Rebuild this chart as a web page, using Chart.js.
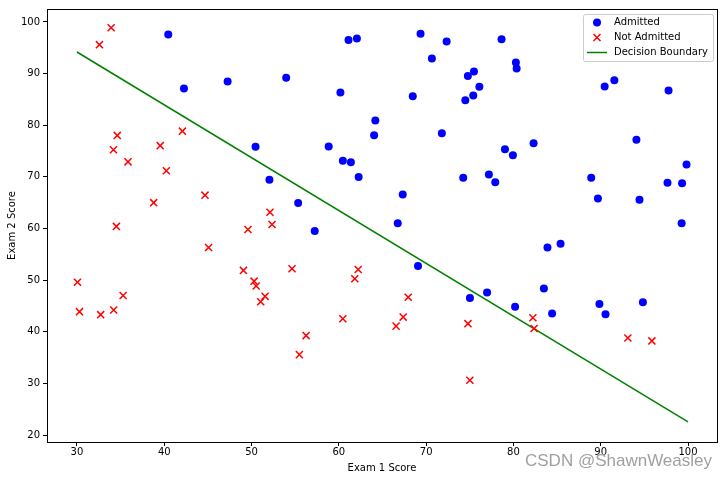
<!DOCTYPE html>
<html>
<head>
<meta charset="utf-8">
<script src="https://cdn.jsdelivr.net/npm/chart.js@4.4.0/dist/chart.umd.min.js"></script>
<style>
	html, body { margin: 0; padding: 0; background: #fff; }
	#wrap { position: relative; width: 724px; height: 480px; }
	#mark {
		position: absolute; left: 525px; top: 451px;
		font-family: "Liberation Sans", Arial, sans-serif; font-size: 17px;
		color: #a0a0a0; text-shadow: 0 0 2px #fff; white-space: nowrap;
	}
</style>
</head>
<body>
<div id="wrap">
	<canvas id="exam-chart" width="724" height="480"></canvas>
	<div id="mark">CSDN @ShawnWeasley</div>
</div>
<script>
// exam scores, admitted students
var admittedX = [60.18, 79.03, 61.11, 75.02, 76.10, 84.43, 82.31, 69.36, 53.97, 69.07, 70.66, 76.98, 89.68, 77.92, 62.27, 80.19, 61.38, 85.40, 52.05, 64.18, 83.90, 94.44, 77.19, 97.77, 62.07, 91.56, 79.94, 99.27, 90.55, 97.65, 74.25, 71.80, 75.40, 40.46, 80.28, 66.75, 64.04, 72.35, 60.46, 58.84, 99.83, 47.26, 50.46, 88.91, 94.83, 67.32, 57.24, 80.37, 68.47, 75.48, 78.64, 94.09, 90.45, 74.49, 89.85, 83.49, 42.26, 99.32, 55.34, 74.78];
var admittedY = [86.31, 75.34, 96.51, 46.55, 87.42, 43.53, 76.48, 97.72, 89.21, 52.74, 92.93, 47.58, 65.80, 68.97, 69.95, 44.82, 72.81, 57.05, 69.43, 80.91, 56.31, 65.57, 70.46, 86.73, 96.77, 88.70, 74.16, 61.00, 43.39, 68.86, 69.82, 78.45, 85.76, 97.54, 92.12, 60.99, 78.03, 96.23, 73.09, 75.86, 72.37, 88.48, 75.81, 69.80, 45.69, 66.59, 59.51, 90.96, 85.59, 90.42, 96.65, 77.16, 87.51, 84.85, 45.36, 48.38, 87.10, 68.78, 64.93, 89.53];

// not admitted
var rejectedX = [34.62, 30.29, 35.85, 45.08, 95.86, 75.01, 39.54, 67.95, 67.37, 50.53, 34.21, 93.11, 61.83, 38.79, 52.11, 40.24, 54.64, 33.92, 74.79, 34.18, 51.55, 82.37, 51.05, 62.22, 34.52, 50.29, 49.59, 32.58, 35.29, 56.25, 30.06, 44.67, 66.56, 49.07, 32.72, 60.46, 82.23, 42.08, 52.35, 55.48];
var rejectedY = [78.02, 43.89, 72.90, 56.32, 38.23, 30.60, 76.04, 46.68, 42.84, 48.86, 44.21, 38.80, 50.26, 65.00, 63.13, 71.17, 52.21, 98.87, 41.57, 75.24, 46.86, 40.62, 45.82, 52.06, 60.40, 49.80, 59.81, 95.60, 47.02, 39.26, 49.59, 66.45, 41.09, 51.88, 43.31, 42.51, 42.72, 78.84, 60.77, 35.57];

// decision boundary end points
var boundaryX = [30, 100];
var boundaryY = [94.17, 22.53];

var xTicks = [30, 40, 50, 60, 70, 80, 90, 100];
var yTicks = [20, 30, 40, 50, 60, 70, 80, 90, 100];

function toPoints(xs, ys) {
	var pts = [];
	for (var i = 0; i < xs.length; i++) {
		pts.push({ x: xs[i], y: ys[i] });
	}
	return pts;
}

var FONT = { family: "'DejaVu Sans', sans-serif", size: 10 };

// box around the plot + legend in the upper right corner
var frameAndLegend = {
	id: "frameAndLegend",
	afterDraw: function (chart) {
		var c = chart.ctx, a = chart.chartArea;
		c.save();
		c.strokeStyle = "#000";
		c.lineWidth = 1;
		c.strokeRect(Math.round(a.left) + 0.5, Math.round(a.top) + 0.5, Math.round(a.right - a.left), Math.round(a.bottom - a.top));

		var bx = a.right - 134, by = a.top + 5, bw = 130, bh = 47;
		c.fillStyle = "rgba(255,255,255,0.8)";
		c.strokeStyle = "#cccccc";
		c.beginPath();
		c.roundRect(bx + 0.5, by + 0.5, bw, bh, 2);
		c.fill();
		c.stroke();

		c.font = "10px 'DejaVu Sans', sans-serif";
		c.fillStyle = "#000";
		c.textBaseline = "middle";
		var labels = ["Admitted", "Not Admitted", "Decision Boundary"];
		for (var i = 0; i < labels.length; i++) {
			var ly = by + 8.5 + i * 15;
			var mx = bx + 14;
			if (i === 0) {
				c.fillStyle = "#0000ff";
				c.beginPath();
				c.arc(mx, ly, 4, 0, Math.PI * 2);
				c.fill();
			} else if (i === 1) {
				c.strokeStyle = "#ff0000";
				c.lineWidth = 1.5;
				c.beginPath();
				c.moveTo(mx - 3.5, ly - 3.5); c.lineTo(mx + 3.5, ly + 3.5);
				c.moveTo(mx + 3.5, ly - 3.5); c.lineTo(mx - 3.5, ly + 3.5);
				c.stroke();
			} else {
				c.strokeStyle = "#008000";
				c.lineWidth = 1.5;
				c.beginPath();
				c.moveTo(mx - 10, ly); c.lineTo(mx + 10, ly);
				c.stroke();
			}
			c.fillStyle = "#000";
			c.fillText(labels[i], bx + 31, ly);
		}
		c.restore();
	}
};

var ctx = document.getElementById("exam-chart").getContext("2d");
var myChart = new Chart(ctx, {
	type: "scatter",
	data: {
		datasets: [
			{
				label: "Admitted",
				data: toPoints(admittedX, admittedY),
				pointStyle: "circle",
				pointRadius: 4,
				pointHoverRadius: 4,
				backgroundColor: "#0000ff",
				borderColor: "#0000ff",
				borderWidth: 0,
			},
			{
				label: "Not Admitted",
				data: toPoints(rejectedX, rejectedY),
				pointStyle: "crossRot",
				pointRadius: 5,
				pointHoverRadius: 5,
				borderColor: "#ff0000",
				borderWidth: 1.5,
			},
			{
				label: "Decision Boundary",
				type: "line",
				data: toPoints(boundaryX, boundaryY),
				borderColor: "#008000",
				borderWidth: 1.5,
				pointRadius: 0,
				fill: false,
			},
		],
	},
	options: {
		responsive: false,
		animation: false,
		layout: { padding: { top: 7, right: 7, left: 6, bottom: 6 } },
		plugins: {
			legend: { display: false },
			tooltip: { enabled: false },
		},
		scales: {
			x: {
				type: "linear",
				min: 26.57,
				max: 103.32,
				afterBuildTicks: function (scale) {
					scale.ticks = xTicks.map(function (v) { return { value: v }; });
				},
				afterFit: function (scale) { scale.height = 32; },
				ticks: { font: FONT, color: "#000", padding: 0, maxRotation: 0 },
				grid: { drawOnChartArea: false, tickLength: 4, color: "#000" },
				border: { display: true, color: "#000" },
				title: { display: true, text: "Exam 1 Score", font: FONT, color: "#000", padding: { top: 2, bottom: 0 } },
			},
			y: {
				type: "linear",
				min: 18.65,
				max: 102.5,
				afterBuildTicks: function (scale) {
					scale.ticks = yTicks.map(function (v) { return { value: v }; });
				},
				afterFit: function (scale) { scale.width = 41; },
				ticks: { font: FONT, color: "#000", padding: 3 },
				grid: { drawOnChartArea: false, tickLength: 4, color: "#000" },
				border: { display: true, color: "#000" },
				title: { display: true, text: "Exam 2 Score", font: FONT, color: "#000", padding: { top: 0, bottom: 0 } },
			},
		},
	},
	plugins: [frameAndLegend],
});
</script>
</body>
</html>
